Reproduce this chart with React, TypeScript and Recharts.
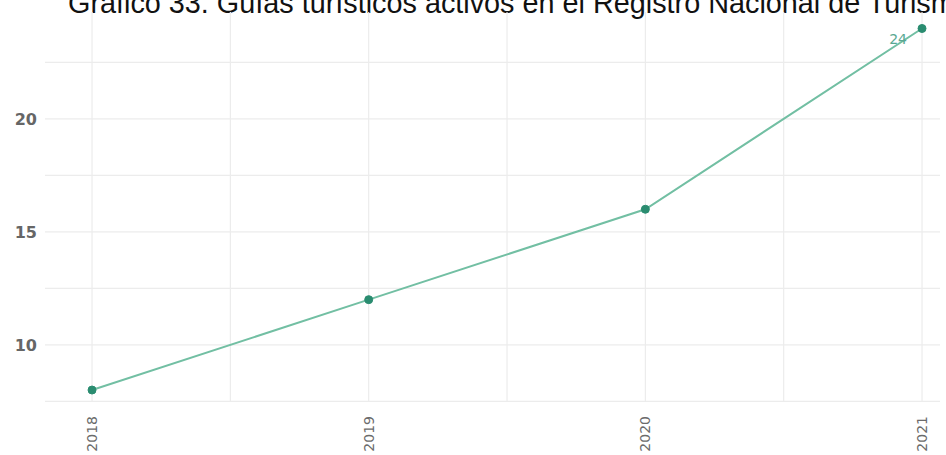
import React from 'react';
import { LineChart, Line, XAxis, YAxis, CartesianGrid } from 'recharts';

const years = [2018, 2019, 2020, 2021];
const guias = [8, 12, 16, 24];
const xTicks = [2018, 2018.5, 2019, 2019.5, 2020, 2020.5, 2021];
const yTicks = [7.5, 10, 12.5, 15, 17.5, 20, 22.5];

const data = years.map((y, i) => ({ year: y, guias: guias[i] }));

const XTick = ({ x, y, payload }: any) => {
  if (payload.value % 1 !== 0) return null;
  return (
    <text
      x={x}
      y={y}
      transform={`rotate(-90, ${x}, ${y})`}
      textAnchor="end"
      dy={5}
      fontSize={14}
      fontFamily="DejaVu Sans"
      fill="#6b6b6b"
    >
      {payload.value}
    </text>
  );
};

const YTick = ({ x, y, payload }: any) => {
  if (payload.value % 5 !== 0) return null;
  return (
    <text x={x} y={y} dy={6} textAnchor="end" fontSize={16} fontWeight={600} fontFamily="DejaVu Sans" fill="#666">
      {payload.value}
    </text>
  );
};

const LastLabel = ({ x, y, index, value }: any) => {
  if (index !== guias.length - 1) return null;
  return (
    <text x={x - 15} y={y + 16} textAnchor="end" fontSize={14} fontFamily="DejaVu Sans" fill="#5aa892">
      {value}
    </text>
  );
};

// scale can be a plain d3 function or a wrapper object depending on version
const applyScale = (scale: any, v: number) => {
  if (typeof scale === 'function') return scale(v);
  if (scale && typeof scale.map === 'function') return scale.map(v);
  if (scale && typeof scale.scale === 'function') return scale.scale(v);
  return undefined;
};

const vGrid = (props: any) => {
  const pts = xTicks.map((t) => applyScale(props?.xAxis?.scale, t)).filter((p) => typeof p === 'number');
  return pts as number[];
};

const hGrid = (props: any) => {
  const pts = yTicks.map((t) => applyScale(props?.yAxis?.scale, t)).filter((p) => typeof p === 'number');
  return pts as number[];
};

export default function App() {
  return (
    <div style={{ position: 'absolute', left: 0, top: 0, width: 946, height: 455, background: '#fff', overflow: 'hidden' }}>
      <div
        style={{
          position: 'absolute',
          left: 68,
          top: -13,
          whiteSpace: 'nowrap',
          fontFamily: 'Liberation Sans, Arial, sans-serif',
          fontSize: 28.8,
          color: '#111',
        }}
      >
        Gráfico 33. Guías turísticos activos en el Registro Nacional de Turismo
      </div>
      <LineChart width={946} height={455} data={data} margin={{ top: 12, right: 6, left: 0, bottom: 3 }}>
        <CartesianGrid
          stroke="#ececec"
          strokeWidth={1.2}
          verticalCoordinatesGenerator={vGrid}
          horizontalCoordinatesGenerator={hGrid}
        />
        <XAxis
          dataKey="year"
          type="number"
          domain={[2017.83, 2021.065]}
          ticks={xTicks}
          interval={0}
          height={50}
          axisLine={false}
          tickLine={false}
          tickSize={0}
          tickMargin={14}
          tick={<XTick />}
        />
        <YAxis
          type="number"
          domain={[7.47, 24.73]}
          ticks={yTicks}
          interval={0}
          width={45}
          axisLine={false}
          tickLine={false}
          tickSize={0}
          tickMargin={8}
          tick={<YTick />}
          allowDataOverflow
        />
        <Line
          type="linear"
          dataKey="guias"
          stroke="#72bfa3"
          strokeWidth={2}
          dot={{ r: 4, fill: '#2a8c70', stroke: '#2a8c70', strokeWidth: 1 }}
          label={<LastLabel />}
          isAnimationActive={false}
        />
      </LineChart>
    </div>
  );
}
